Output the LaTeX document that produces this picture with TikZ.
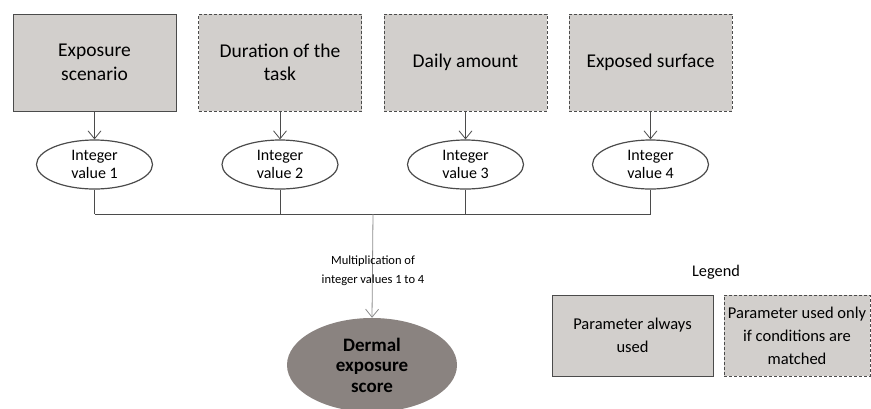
\documentclass[tikz,border=0pt]{standalone}
\usepackage{fontspec}
\setmainfont{Carlito}
\usetikzlibrary{arrows.meta,shapes.geometric}

\definecolor{boxgray}{RGB}{210,207,204}
\definecolor{scoregray}{RGB}{138,131,128}
\definecolor{linegray}{RGB}{75,75,75}
\definecolor{arrowgray}{RGB}{140,140,140}

\begin{document}
\begin{tikzpicture}[x=1pt,y=-1pt,
  param/.style={draw=linegray,line width=0.8pt,fill=boxgray,minimum width=163pt,minimum height=97pt,
    inner sep=0pt,align=center,font=\fontsize{19.5}{23.5}\selectfont},
  optional/.style={param,dash pattern=on 3pt off 2pt},
  intval/.style={ellipse,draw=linegray,line width=1.2pt,fill=white,minimum width=116pt,minimum height=49pt,
    inner sep=0pt,align=center,font=\fontsize{16}{18.5}\selectfont},
  link/.style={draw=linegray,line width=0.8pt},
  arr/.style={link,-{Straight Barb[length=8pt,width=13pt]}},
  legendbox/.style={draw=linegray,line width=0.8pt,fill=boxgray,minimum height=81pt,inner sep=0pt,
    align=center,font=\fontsize{16.5}{23}\selectfont}]
  \useasboundingbox (0,0) rectangle (871,408);

  % Bus to the score
  \coordinate (bus) at (373,214);

  % Parameters and their integer values
  \foreach \i/\x/\txt/\sty in {1/94.5/{Exposure\\scenario}/param,
                               2/280/{Duration of the\\task}/optional,
                               3/465.5/{Daily amount}/optional,
                               4/650.5/{Exposed surface}/optional}
  {
    \node[\sty] (p\i) at (\x,62.5) {\txt};
    \node[intval] (v\i) at (\x,164.5) {Integer\\value \i};
    \draw[arr] (p\i) -- (v\i);
    \draw[link] (v\i.south) -- (v\i.south |- bus);
  }
  \draw[link] (v1.south |- bus) -- (v4.south |- bus);

  % Score
  \node[ellipse,fill=scoregray,minimum width=170pt,minimum height=94pt,inner sep=0pt,align=center,
    font=\bfseries\fontsize{19}{20.5}\selectfont] (score) at (372,365) {Dermal\\exposure\\score};
  \draw[arr,draw=arrowgray] (bus) -- (score.north);
  \node[align=center,font=\fontsize{12.5}{19}\selectfont] (mult) at (373,271)
    {Multiplication of\\integer values 1 to 4};

  % Legend
  \node[font=\fontsize{16.3}{19}\selectfont] (legend) at (716,272) {Legend};
  \node[legendbox,minimum width=161pt] (always) at (632.5,335.5) {Parameter always\\used};
  \node[legendbox,minimum width=146pt,dash pattern=on 3pt off 2pt] (onlyif) at (797,335.5)
    {Parameter used only\\if conditions are\\matched};
\end{tikzpicture}
\end{document}
